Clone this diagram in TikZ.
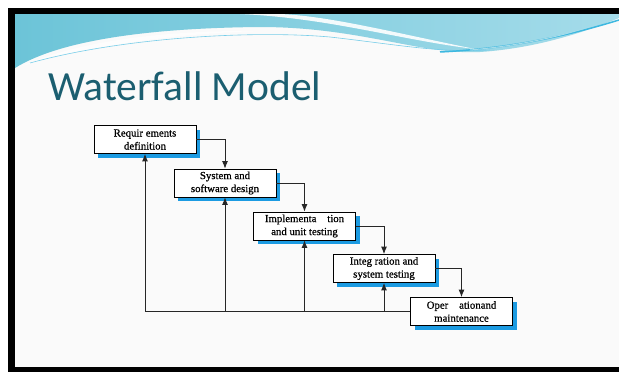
\documentclass[tikz,border=0pt]{standalone}
\usepackage{fontspec}
\setmainfont{Liberation Serif}
\newfontfamily\titlefont{Carlito}
\newfontfamily\boxfont[FakeBold=0.7]{Liberation Serif}
\usetikzlibrary{arrows.meta,shadows}
\definecolor{titleteal}{HTML}{1B5E70}
\definecolor{shadowblue}{HTML}{1C9BE2}
\definecolor{wavea}{HTML}{6CC4D8}
\definecolor{waveb}{HTML}{A5DCEA}
\definecolor{wavec}{HTML}{3DB8E0}
\definecolor{slidebg}{HTML}{FAFAFA}
\tikzset{
  stagebox/.style={draw=black, line width=0.8pt, fill=white, align=center,
    font=\boxfont\fontsize{10.8}{13}\selectfont, inner sep=1pt,
    minimum width=102pt, minimum height=28pt,
    drop shadow={shadow xshift=4pt, shadow yshift=-4pt, fill=shadowblue, opacity=1}},
  flow/.style={draw=black!85, line width=0.9pt, -{Latex[length=7.5pt,width=6pt]}},
}
\begin{document}
\begin{tikzpicture}[x=1pt,y=-1pt]
\useasboundingbox (0,0) rectangle (619,372);
% frame
\fill[white] (0,0) rectangle (619,372);
\fill[black] (8,8) rectangle (619,372);
\fill[slidebg] (15,14) rectangle (619,367);
% wave
\shade[left color=wavea, right color=waveb]
  (15,14) -- (619,14) -- (619,18)
  .. controls (590,30) and (540,48) .. (480,52)
  .. controls (420,55) and (360,27) .. (260,27)
  .. controls (150,28) and (60,40) .. (15,68) -- cycle;
\fill[white, opacity=0.9] (240,14) .. controls (330,18) and (400,40) .. (475,49)
  .. controls (400,34) and (330,16) .. (280,14) -- cycle;
\fill[white, opacity=0.6] (22,66) .. controls (80,40) and (170,30) .. (260,31)
  .. controls (170,34) and (90,46) .. (22,66) -- cycle;
\draw[wavec!70, line width=0.6pt] (30,63) .. controls (120,38) and (250,30) .. (330,37)
  .. controls (400,45) and (440,53) .. (490,50);
\draw[wavec, line width=1.5pt] (440,52) .. controls (520,48) and (580,32) .. (619,20);
\draw[waveb, line width=1pt] (470,50) .. controls (540,44) and (590,28) .. (619,16);
% title
\node[anchor=base west, inner sep=0pt, text=titleteal, font=\titlefont\fontsize{41.5}{46}\selectfont] (title) at (48,100) {Waterfall Model};
% stages
\node[stagebox] (b1) at (145,139.5) {Requir ements\\definition};
\node[stagebox] (b2) at (225,183) {System and\\software design};
\node[stagebox] (b3) at (304.5,226) {Implementa\quad tion\\and unit testing};
\node[stagebox] (b4) at (384,268.5) {Integ ration and\\system testing};
\node[stagebox] (b5) at (461.5,311.5) {Oper\quad ationand\\maintenance};
% forward flow
\draw[flow] (b1.east) -| (b2.north);
\draw[flow] (b2.east) -| (b3.north);
\draw[flow] (b3.east) -| (b4.north);
\draw[flow] (b4.east) -| (b5.north);
% feedback
\draw[flow] (b5.west) -| (b1.south);
\draw[flow] (b2.south |- b5.west) -- (b2.south);
\draw[flow] (b3.south |- b5.west) -- (b3.south);
\draw[flow] (b4.south |- b5.west) -- (b4.south);
\end{tikzpicture}
\end{document}
